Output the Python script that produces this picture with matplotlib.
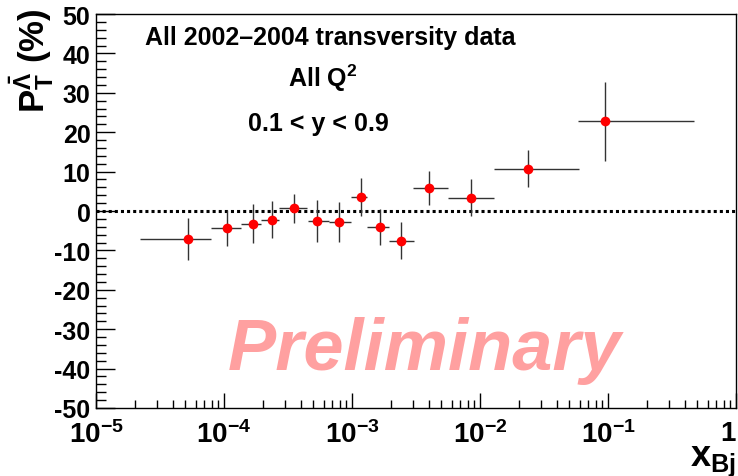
import numpy as np
import matplotlib
matplotlib.use("Agg")
from matplotlib import pyplot as plt
from matplotlib.ticker import FixedLocator, FuncFormatter, NullFormatter

plt.rcParams['font.family'] = ['Liberation Sans', 'DejaVu Sans']
plt.rcParams['mathtext.fontset'] = 'custom'
plt.rcParams['mathtext.rm'] = 'Liberation Sans:bold'
plt.rcParams['mathtext.bf'] = 'Liberation Sans:bold'
plt.rcParams['mathtext.it'] = 'Liberation Sans:bold'
plt.rcParams['axes.unicode_minus'] = False

# data: x_Bj bin centres, bin edges, polarisation (%)
x_bj = [5.2e-5, 1.06e-4, 1.70e-4, 2.39e-4, 3.50e-4, 5.37e-4, 7.9e-4,
        1.17e-3, 1.64e-3, 2.40e-3, 4.02e-3, 8.53e-3, 2.36e-2, 9.46e-2]
x_lo = [2.2e-5, 7.9e-5, 1.36e-4, 1.96e-4, 2.68e-4, 4.5e-4, 6.6e-4,
        9.8e-4, 1.32e-3, 1.93e-3, 3.0e-3, 5.6e-3, 1.28e-2, 5.85e-2]
x_hi = [7.9e-5, 1.35e-4, 1.96e-4, 2.68e-4, 4.48e-4, 6.6e-4, 9.8e-4,
        1.31e-3, 1.93e-3, 3.07e-3, 5.6e-3, 1.28e-2, 5.9e-2, 0.47]
pol = [-7.1, -4.3, -3.2, -2.2, 0.7, -2.5, -2.7,
       3.6, -4.0, -7.5, 5.8, 3.4, 10.7, 22.8]
pol_err = [5.3, 4.5, 4.9, 4.7, 3.7, 5.3, 5.1,
           4.9, 4.6, 4.7, 4.4, 4.6, 4.7, 10.0]

x_bj = np.array(x_bj)
xerr = [x_bj - np.array(x_lo), np.array(x_hi) - x_bj]

fig = plt.figure(figsize=(7.38, 4.77), dpi=100)
ax = fig.add_axes([96 / 738, 68 / 477, 640 / 738, 394 / 477])

ax.set_xscale('log')
ax.set_xlim(1e-5, 1)
ax.set_ylim(-50, 50)

ax.axhline(0, color='black', lw=2.2, linestyle=(0, (1, 1)), zorder=1)

ax.errorbar(x_bj, pol, xerr=xerr, yerr=pol_err, fmt='o', color='red',
            markersize=7, markeredgewidth=0, ecolor='#333333',
            elinewidth=1.0, capsize=2.5, capthick=1.0, zorder=3)

# axes in ROOT style
for side in ['left', 'bottom', 'right', 'top']:
    ax.spines[side].set_linewidth(1.0)

ax.yaxis.set_major_locator(FixedLocator(np.arange(-50, 51, 10)))
ax.yaxis.set_minor_locator(FixedLocator(np.arange(-50, 51, 2)))
ax.yaxis.set_major_formatter(FuncFormatter(lambda v, p: '%d' % v))

ax.xaxis.set_major_locator(FixedLocator([1e-5, 1e-4, 1e-3, 1e-2, 1e-1, 1]))
ax.xaxis.set_minor_locator(FixedLocator(
    [m * 10.0 ** e for e in range(-5, 0) for m in range(2, 10)]))
ax.xaxis.set_minor_formatter(NullFormatter())


def xfmt(v, p):
    e = int(round(np.log10(v)))
    if e == 0:
        return '1'
    return r'$\mathbf{10^{%d}}$' % e


ax.xaxis.set_major_formatter(FuncFormatter(xfmt))

ax.tick_params(axis='y', which='major', direction='in', length=14, width=1,
               labelsize=18, pad=4)
ax.tick_params(axis='y', which='minor', direction='in', length=7, width=1)
ax.tick_params(axis='x', which='major', direction='in', length=11, width=1,
               labelsize=20, pad=9)
ax.tick_params(axis='x', which='minor', direction='in', length=6, width=1)
for lab in ax.get_yticklabels() + ax.get_xticklabels():
    lab.set_fontweight('bold')
ax.get_xticklabels()[-1].set_horizontalalignment('right')

ax.set_ylabel(r'$\mathbf{P_{T}^{\bar{\Lambda}}}$ (%)', fontsize=25,
              fontweight='bold', loc='top')
ax.yaxis.set_label_coords(-0.062, 1.018)

ax.set_xlabel(r'$\mathbf{x_{Bj}}$', fontsize=26)
ax.xaxis.set_label_coords(1.0, -0.09)
ax.xaxis.label.set_horizontalalignment('right')

ax.text(0.366, 0.942, 'All 2002\u20132004 transversity data',
        transform=ax.transAxes, ha='center', va='center',
        fontsize=18, fontweight='bold')
ax.text(0.355, 0.84, r'All Q$^{\mathbf{2}}$', transform=ax.transAxes,
        ha='center', va='center', fontsize=18, fontweight='bold')
ax.text(0.348, 0.723, '0.1 < y < 0.9', transform=ax.transAxes,
        ha='center', va='center', fontsize=18, fontweight='bold')
ax.text(0.514, 0.099, 'Preliminary', transform=ax.transAxes, ha='center',
        va='baseline', fontsize=52, fontweight='bold', style='italic',
        color='#ffa0a0', zorder=0)

fig.savefig('out.png', dpi=100)
